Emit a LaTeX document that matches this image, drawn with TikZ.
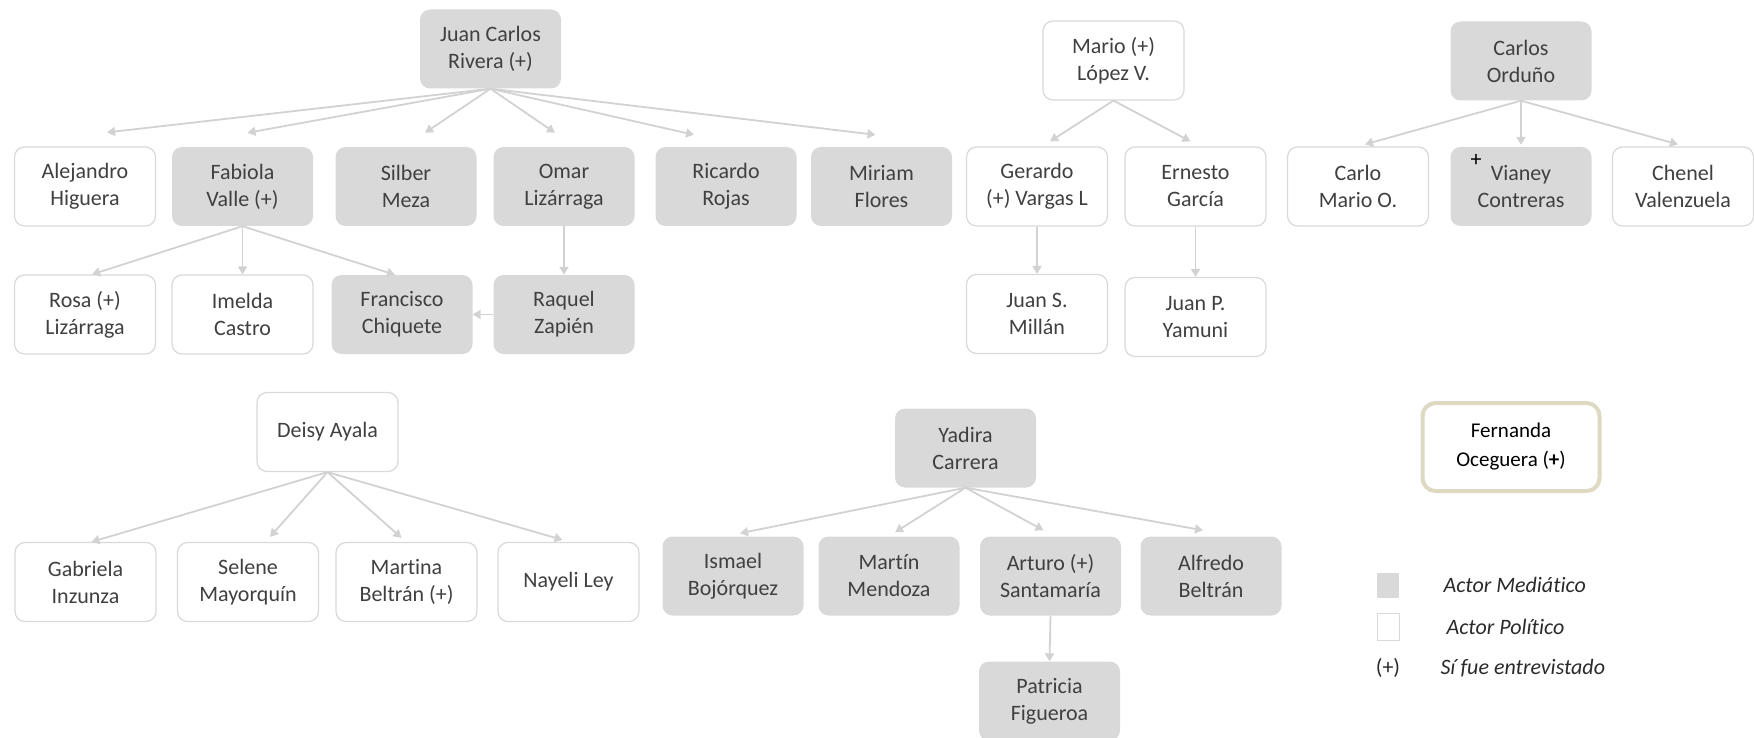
\documentclass[tikz,border=0pt]{standalone}
\usepackage{fontspec}
\setmainfont{Carlito}[Ligatures={NoCommon,NoContextual}]
\usetikzlibrary{arrows.meta}

\definecolor{boxgray}{HTML}{D9D9D9}
\definecolor{linegray}{HTML}{D2D2D2}
\definecolor{textgray}{HTML}{404040}
\definecolor{tanborder}{HTML}{DDD9C3}
\definecolor{legendtext}{HTML}{2A2A2A}

\begin{document}
\begin{tikzpicture}
[
x=1pt, y=-1pt,
every node/.style={font=\fontsize{22}{27}\selectfont},
MediaBox/.style={rectangle, rounded corners=10pt, fill=boxgray, text=textgray, minimum width=141pt, minimum height=79pt, inner sep=0pt, align=center},
PoliticBox/.style={MediaBox, fill=white, draw=boxgray, line width=1.2pt},
GuestBox/.style={rectangle, rounded corners=13pt, fill=white, draw=tanborder, line width=4pt, text=black, minimum width=177pt, minimum height=88pt, inner sep=0pt, align=center, font=\fontsize{21}{29}\selectfont},
Link/.style={-{Triangle[length=8pt,width=9pt]}, draw=linegray, line width=1.8pt},
LegendSquare/.style={rectangle, minimum width=22pt, inner sep=0pt},
LegendText/.style={anchor=west, text=legendtext, font=\fontsize{22}{27}\selectfont\itshape},
]

\useasboundingbox (0,0) rectangle (1754,738);

% Juan Carlos Rivera
\node[MediaBox] (juan) at (490.5,49) {Juan Carlos\\Rivera (+)};

\node[PoliticBox] (alejandro) at (  85,186.5) {Alejandro\\Higuera};
\node[MediaBox]   (fabiola)   at (242.5,186.5) {Fabiola\\Valle (+)};
\node[MediaBox]   (silber)    at ( 406,186.5) {Silber\\Meza};
\node[MediaBox]   (omar)      at ( 564,186.5) {Omar\\Liz\'arraga};
\node[MediaBox]   (ricardo)   at ( 726,186.5) {Ricardo\\Rojas};
\node[MediaBox]   (miriam)    at (881.5,186.5) {Miriam\\Flores};

\node[PoliticBox] (rosa)      at (  85,314.5) {Rosa (+)\\Liz\'arraga};
\node[PoliticBox] (imelda)    at (242.5,314.5) {Imelda\\Castro};
\node[MediaBox]   (francisco) at ( 402,314.5) {Francisco\\Chiquete};
\node[MediaBox]   (raquel)    at ( 564,314.5) {Raquel\\Zapi\'en};

\draw[Link] (juan.south) -- ([xshift=22pt,yshift=14pt]alejandro.north);
\draw[Link] (juan.south) -- ([xshift=5pt,yshift=14pt]fabiola.north);
\draw[Link] (juan.south) -- ([xshift=19pt,yshift=14pt]silber.north);
\draw[Link] (juan.south) -- ([xshift=-9pt,yshift=14pt]omar.north);
\draw[Link] (juan.south) -- ([xshift=-32pt,yshift=12pt]ricardo.north);
\draw[Link] (juan.south) -- ([xshift=-6pt,yshift=12pt]miriam.north);

\draw[Link] (fabiola.south) -- ([xshift=7pt]rosa.north);
\draw[Link] (fabiola.south) -- (imelda.north);
\draw[Link] (fabiola.south) -- ([xshift=-7pt]francisco.north);
\draw[Link] (omar.south) -- (raquel.north);
\draw[Link] (raquel.west) -- (francisco.east);

% Mario Lopez
\node[PoliticBox] (mario)   at (1113.5,60.5) {Mario (+)\\L\'opez V.};
\node[PoliticBox] (gerardo) at (1037,186.5) {Gerardo\\(+) Vargas L};
\node[PoliticBox] (ernesto) at (1195.5,186.5) {Ernesto\\Garc\'ia};
\node[PoliticBox] (juans)   at (1037,314) {Juan S.\\Mill\'an};
\node[PoliticBox] (juanp)   at (1195.5,317) {Juan P.\\Yamuni};

\draw[Link] (mario.south) -- ([xshift=13pt,yshift=5pt]gerardo.north);
\draw[Link] (mario.south) -- ([xshift=-5pt,yshift=5pt]ernesto.north);
\draw[Link] (gerardo.south) -- (juans.north);
\draw[Link] (ernesto.south) -- (juanp.north);

% Carlos Orduno
\node[MediaBox]   (carlos) at (1521,61) {Carlos\\Ordu\~no};
\node[PoliticBox] (carlo)  at (1358,186.5) {Carlo\\Mario O.};
\node[MediaBox]   (vianey) at (1521,186.5) {Vianey\\Contreras};
\node[text=black] (vianeyplus) at (1476,160) {+};
\node[PoliticBox] (chenel) at (1683,186.5) {Chenel\\Valenzuela};

\draw[Link] (carlos.south) -- ([xshift=7pt,yshift=2pt]carlo.north);
\draw[Link] (carlos.south) -- ([yshift=2pt]vianey.north);
\draw[Link] (carlos.south) -- ([xshift=-5pt,yshift=2pt]chenel.north);

% Deisy Ayala
\node[PoliticBox] (deisy)    at (327.5,432) {Deisy Ayala};
\node[PoliticBox] (gabriela) at (85.5,582) {Gabriela\\Inzunza};
\node[PoliticBox] (selene)   at ( 248,582) {Selene\\Mayorqu\'in};
\node[PoliticBox] (martina)  at (406.5,582) {Martina\\Beltr\'an (+)};
\node[PoliticBox] (nayeli)   at (568.5,582) {Nayeli Ley};

\draw[Link] (deisy.south) -- ([xshift=6pt]gabriela.north);
\draw[Link] (deisy.south) -- ([xshift=22pt,yshift=5pt]selene.north);
\draw[Link] (deisy.south) -- ([xshift=-5pt,yshift=4pt]martina.north);
\draw[Link] (deisy.south) -- ([xshift=-6pt,yshift=2pt]nayeli.north);

% Yadira Carrera
\node[MediaBox] (yadira)   at (965.5,448) {Yadira\\Carrera};
\node[MediaBox] (ismael)   at ( 733,576) {Ismael\\Boj\'orquez};
\node[MediaBox] (martin)   at ( 889,576) {Mart\kern0pt\'in\\Mendoza};
\node[MediaBox] (arturo)   at (1050.5,576) {Arturo (+)\\Santamar\'ia};
\node[MediaBox] (alfredo)  at (1211,576) {Alfredo\\Beltr\'an};
\node[MediaBox] (patricia) at (1049.5,701) {Patricia\\Figueroa};

\draw[Link] (yadira.south) -- ([xshift=7pt,yshift=3pt]ismael.north);
\draw[Link] (yadira.south) -- ([xshift=6pt,yshift=4pt]martin.north);
\draw[Link] (yadira.south) -- ([xshift=-7pt,yshift=6pt]arturo.north);
\draw[Link] (yadira.south) -- ([xshift=-8pt,yshift=6pt]alfredo.north);
\draw[Link] (arturo.south) -- (patricia.north);

% Fernanda Oceguera
\node[GuestBox] (fernanda) at (1511,447) {Fernanda\\Oceguera (\textbf{+})};

% legend
\node[LegendSquare, fill=boxgray, minimum height=25pt] (keymedia) at (1388,585.5) {};
\node[LegendSquare, fill=white, draw=boxgray, line width=1pt, minimum height=27pt] (keypolitic) at (1388,627) {};
\node[text=legendtext] (keyplus) at (1388,668) {(+)};
\node[LegendText] (labmedia) at (1440,585) {Actor Medi\'atico};
\node[LegendText] (labpolitic) at (1443,627) {Actor Pol\'it\kern0pt ico};
\node[LegendText] (labplus) at (1437,668) {S\'i fue entrevistado};

\end{tikzpicture}
\end{document}
